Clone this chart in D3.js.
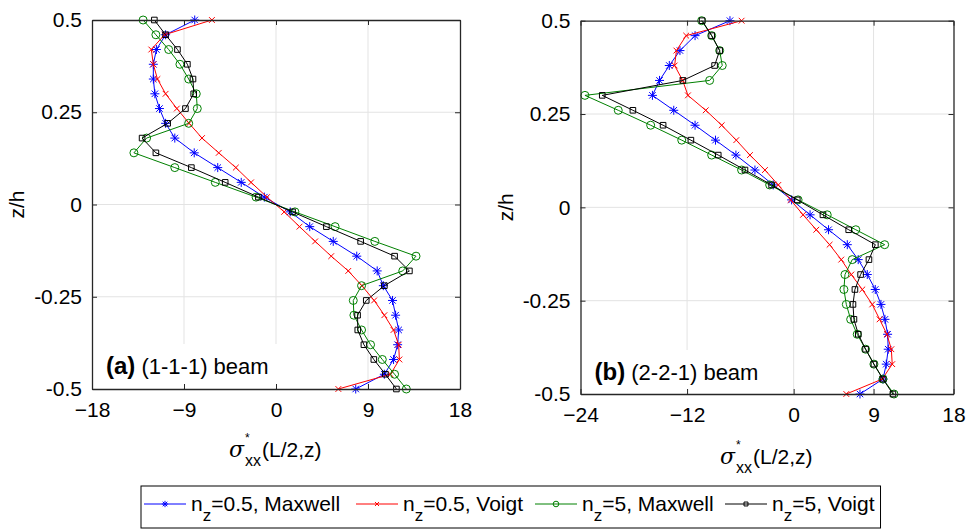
<!DOCTYPE html>
<html><head><meta charset="utf-8">
<script src="https://cdn.jsdelivr.net/npm/d3@7"></script>
<style>
body{margin:0;background:#fff}
svg text{font-family:"Liberation Sans",Arial,Helvetica,sans-serif;fill:#000}
</style>
</head><body>
<svg id="chart" width="966" height="531"></svg>
<script>
// ---------------- data ----------------
const zLevels = [0.5,0.46,0.42,0.38,0.34,0.30,0.26,0.22,0.18,0.14,0.10,0.06,0.02,
                 -0.02,-0.06,-0.10,-0.14,-0.18,-0.22,-0.26,-0.30,-0.34,-0.38,-0.42,-0.46,-0.5];

const seriesNames = ["n_z=0.5, Maxwell","n_z=0.5, Voigt","n_z=5, Maxwell","n_z=5, Voigt"];

// panel (a) (1-1-1) beam
const aMaxwell05 = [-7.95,-10.8,-11.7,-12.0,-12.0,-11.85,-11.4,-10.8,-9.9,-8.0,-5.7,-3.4,-1.14,
                    1.39,3.3,5.6,7.9,9.9,10.5,11.4,11.7,12.0,11.9,11.5,10.6,7.8];
const aVoigt05   = [-6.27,-10.9,-12.2,-12.0,-11.6,-10.8,-9.7,-8.5,-7.24,-5.6,-3.93,-2.44,-0.88,
                    0.8,2.3,3.83,5.4,7.07,8.4,9.6,10.6,11.5,12.0,12.07,11.2,6.1];
const aMaxwell5  = [-13.0,-11.75,-10.5,-9.4,-8.54,-7.8,-7.7,-8.54,-12.66,-13.9,-9.9,-5.94,-1.95,
                    1.85,5.78,9.67,13.7,12.4,8.37,7.56,7.62,8.37,9.25,10.4,11.6,12.75];
const aVoigt5    = [-11.9,-10.8,-9.64,-8.67,-8.12,-8.05,-8.86,-10.6,-13.1,-11.75,-8.28,-4.97,-1.72,
                    1.62,4.93,8.28,11.6,13.05,10.6,8.83,7.98,8.0,8.6,9.57,10.7,11.78];

// panel (b) (2-2-1) beam
const bMaxwell05 = [-7.17,-11.1,-12.8,-14.0,-15.1,-15.9,-13.5,-11.1,-8.8,-6.5,-4.36,-2.3,-0.23,
                    1.85,3.93,6.04,7.27,8.29,9.19,9.83,10.28,10.58,10.65,10.43,10.06,7.47];
const bVoigt05   = [-5.86,-12.1,-13.2,-13.4,-12.5,-11.9,-9.9,-8.1,-6.46,-4.92,-3.23,-1.73,-0.34,
                    1.06,2.55,4.05,5.36,6.49,7.73,8.85,9.68,10.5,11.0,11.1,9.98,5.93];
const bMaxwell5  = [-10.36,-9.23,-8.33,-8.04,-9.46,-23.5,-19.75,-16.1,-12.6,-9.23,-5.86,-2.7,0.5,
                    3.78,7.0,10.25,6.6,5.78,5.66,5.93,6.42,7.16,8.1,9.04,10.06,11.3];
const bVoigt5    = [-10.3,-9.23,-8.33,-8.9,-12.47,-21.55,-18.1,-14.7,-11.57,-8.49,-5.48,-2.48,0.41,
                    3.3,6.2,9.2,8.48,7.54,6.9,6.68,6.79,7.28,8.1,9.04,10.06,11.18];

const xTicksA = [-18,-9,0,9,18];
const xTicksB = [-24,-12,0,9,18];
const yTicks  = [-0.5,-0.25,0,0.25,0.5];
const yTickLabels = ["-0.5","-0.25","0","0.25","0.5"];

// ---------------- styles ----------------
const colors  = ["#0000ff","#ff0000","#008000","#000000"];
const markers = ["star","x","circle","square"];
const FONT = "'Liberation Sans',Arial,Helvetica,sans-serif";

const svg = d3.select("#chart");

function markerPath(type, s){
  if(type==="star"){
    const d = s*0.72;
    return `M${-s},0L${s},0M0,${-s}L0,${s}M${-d},${-d}L${d},${d}M${-d},${d}L${d},${-d}`;
  }
  if(type==="x"){
    const d = s*0.8;
    return `M${-d},${-d}L${d},${d}M${-d},${d}L${d},${-d}`;
  }
  if(type==="circle"){
    return d3.symbol(d3.symbolCircle, Math.PI*s*s)();
  }
  if(type==="square"){
    return `M${-s},${-s}H${s}V${s}H${-s}Z`;
  }
}
const markerSize = {star:4.5, x:3.6, circle:4.0, square:2.8};

const panels = [
  {x0:92, x1:460, y0:20, y1:389, xdom:[-18,18], xticks:xTicksA,
   series:[aMaxwell05,aVoigt05,aMaxwell5,aVoigt5],
   tag:"(a)", caption:" (1-1-1) beam", ylabX:17, xlabY:457,
   box:[93,344,192,44]},
  {x0:580.5, x1:953.5, y0:20.7, y1:394, xdom:[-24,18], xticks:xTicksB,
   series:[bMaxwell05,bVoigt05,bMaxwell5,bVoigt5],
   tag:"(b)", caption:" (2-2-1) beam", ylabX:506, xlabY:464,
   box:[581.5,350,192,43]}
];

panels.forEach(p=>{
  const x = d3.scaleLinear().domain(p.xdom).range([p.x0,p.x1]);
  const y = d3.scaleLinear().domain([-0.5,0.5]).range([p.y1,p.y0]);
  const g = svg.append("g");

  // grid
  g.append("g").selectAll("line").data(p.xticks.slice(1,-1)).join("line")
    .attr("x1",d=>x(d)).attr("x2",d=>x(d)).attr("y1",p.y0).attr("y2",p.y1)
    .attr("stroke","#e3e3e3").attr("stroke-width",1);
  g.append("g").selectAll("line").data(yTicks.slice(1,-1)).join("line")
    .attr("y1",d=>y(d)).attr("y2",d=>y(d)).attr("x1",p.x0).attr("x2",p.x1)
    .attr("stroke","#e3e3e3").attr("stroke-width",1);

  // annotation background
  g.append("rect").attr("x",p.box[0]).attr("y",p.box[1]).attr("width",p.box[2]).attr("height",p.box[3])
    .attr("fill","#fff");

  // series
  const line = d3.line().x(d=>x(d[0])).y(d=>y(d[1]));
  p.series.forEach((vals,i)=>{
    const pts = vals.map((v,k)=>[v,zLevels[k]]);
    g.append("path").datum(pts).attr("d",line)
      .attr("fill","none").attr("stroke",colors[i]).attr("stroke-width",1);
    g.append("g").selectAll("path").data(pts).join("path")
      .attr("transform",d=>`translate(${x(d[0])},${y(d[1])})`)
      .attr("d",markerPath(markers[i],markerSize[markers[i]]))
      .attr("fill","none").attr("stroke",colors[i]).attr("stroke-width",1);
  });

  // axes (ticks inward)
  const axCol = "#262626";
  const bottom = g.append("g").attr("transform",`translate(0,${p.y1})`)
    .call(d3.axisBottom(x).tickValues(p.xticks).tickFormat(d3.format("d")).tickSize(-5).tickPadding(13).tickSizeOuter(0));
  const left = g.append("g").attr("transform",`translate(${p.x0},0)`)
    .call(d3.axisLeft(y).tickValues(yTicks).tickFormat((d,i)=>yTickLabels[i]).tickSize(-5).tickPadding(10).tickSizeOuter(0));
  const top = g.append("g").attr("transform",`translate(0,${p.y0})`)
    .call(d3.axisTop(x).tickValues(p.xticks).tickFormat("").tickSize(-5).tickSizeOuter(0));
  const right = g.append("g").attr("transform",`translate(${p.x1},0)`)
    .call(d3.axisRight(y).tickValues(yTicks).tickFormat("").tickSize(-5).tickSizeOuter(0));
  [bottom,left,top,right].forEach(a=>{
    a.selectAll(".domain").attr("stroke",axCol).attr("stroke-width",1.3);
    a.selectAll(".tick line").attr("stroke",axCol).attr("stroke-width",1);
    a.selectAll("text").attr("font-size",21).attr("fill","#000").style("font-family",FONT);
  });

  // annotation
  const t = g.append("text").attr("x",p.box[0]+13).attr("y",p.box[1]+30).attr("font-size",22);
  t.append("tspan").attr("font-weight","bold").attr("font-size",24).text(p.tag);
  t.append("tspan").text(p.caption);

  // y label
  g.append("text").attr("transform",`translate(${p.ylabX},${(p.y0+p.y1)/2}) rotate(-90)`)
    .attr("text-anchor","middle").attr("dy","0.35em").attr("font-size",21).text("z/h");

  // x label (sigma with superscript * and subscript xx)
  const cx = (p.x0+p.x1)/2;
  const lx = cx-47;
  const sig = g.append("text").attr("x",lx).attr("y",p.xlabY).attr("font-size",22)
    .attr("font-style","italic").style("font-family","'DejaVu Serif',serif").text("σ");
  const sw = sig.node().getComputedTextLength();
  g.append("text").attr("x",lx+sw+1).attr("y",p.xlabY-15).attr("font-size",12).text("*");
  const xx = g.append("text").attr("x",lx+sw+1).attr("y",p.xlabY+9).attr("font-size",16).text("xx");
  const xw = xx.node().getComputedTextLength();
  g.append("text").attr("x",lx+sw+xw+2).attr("y",p.xlabY).attr("font-size",21).text("(L/2,z)");
});

// ---------------- legend ----------------
const lg = svg.append("g");
const box = lg.append("rect").attr("x",141).attr("y",486).attr("height",42)
  .attr("fill","#fff").attr("stroke","#000").attr("stroke-width",1);
const legX = [144,356,535,725];
let lastEnd = 0;
seriesNames.forEach((nm,i)=>{
  const x0 = legX[i], yc = 504;
  lg.append("line").attr("x1",x0).attr("x2",x0+42).attr("y1",yc).attr("y2",yc)
    .attr("stroke",colors[i]).attr("stroke-width",1);
  lg.append("path").attr("transform",`translate(${x0+21},${yc})`)
    .attr("d",markerPath(markers[i],markerSize[markers[i]]*0.7))
    .attr("fill","none").attr("stroke",colors[i]).attr("stroke-width",1);
  const parts = nm.split("_z");
  const t = lg.append("text").attr("x",x0+47).attr("y",yc+7).attr("font-size",21);
  t.append("tspan").text(parts[0]);
  t.append("tspan").attr("font-size",17).attr("dy",10).text("z");
  t.append("tspan").attr("dy",-10).text(parts[1]);
  lastEnd = x0+47+t.node().getComputedTextLength();
});
box.attr("width", lastEnd + 6 - 141);
</script>
</body></html>
